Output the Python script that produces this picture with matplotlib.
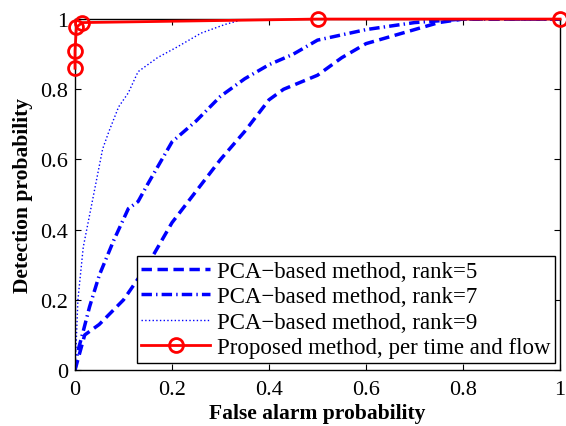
import matplotlib
matplotlib.use("Agg")
import matplotlib.pyplot as plt

plt.rcParams['font.family'] = ['Liberation Serif', 'DejaVu Serif']

# ROC curves
fa_rank5 = [0, 0.01, 0.02, 0.05, 0.10, 0.15, 0.20, 0.25, 0.30, 0.35, 0.40, 0.43, 0.50, 0.55, 0.60, 0.65, 0.70, 0.75, 0.80, 1.0]
pd_rank5 = [0, 0.05, 0.10, 0.13, 0.20, 0.30, 0.42, 0.51, 0.60, 0.68, 0.77, 0.80, 0.84, 0.89, 0.93, 0.95, 0.97, 0.99, 1.0, 1.0]

fa_rank7 = [0, 0.005, 0.015, 0.03, 0.05, 0.08, 0.11, 0.13, 0.15, 0.20, 0.25, 0.30, 0.35, 0.40, 0.45, 0.50, 0.60, 0.70, 0.80, 1.0]
pd_rank7 = [0, 0.05, 0.10, 0.18, 0.27, 0.37, 0.46, 0.48, 0.53, 0.65, 0.71, 0.78, 0.83, 0.87, 0.90, 0.94, 0.97, 0.99, 1.0, 1.0]

fa_rank9 = [0, 0.002, 0.006, 0.017, 0.037, 0.057, 0.07, 0.09, 0.11, 0.13, 0.17, 0.21, 0.26, 0.31, 0.35, 1.0]
pd_rank9 = [0, 0.06, 0.20, 0.35, 0.49, 0.63, 0.68, 0.75, 0.79, 0.85, 0.89, 0.92, 0.96, 0.985, 1.0, 1.0]

fa_prop = [0, 0, 0.003, 0.015, 0.5, 1.0]
pd_prop = [0.86, 0.91, 0.977, 0.99, 1.0, 1.0]

ticks = [0, 0.2, 0.4, 0.6, 0.8, 1]
tick_labels = ['0', '0.2', '0.4', '0.6', '0.8', '1']

fig = plt.figure(figsize=(5.66, 4.27), dpi=100)
ax = fig.add_axes([0.1325, 0.131, 0.857, 0.822])

ax.plot(fa_rank5, pd_rank5, '--', color='b', lw=2.5, dashes=(3, 1.6),
        label='PCA\u2212based method, rank=5')
ax.plot(fa_rank7, pd_rank7, '-.', color='b', lw=2.5, dashes=(3, 1.2, 0.4, 1.2),
        label='PCA\u2212based method, rank=7')
ax.plot(fa_rank9, pd_rank9, ':', color='b', lw=1.0,
        label='PCA\u2212based method, rank=9')
ax.plot(fa_prop, pd_prop, '-', color='r', lw=2.0, marker='o', ms=10,
        mfc='none', mew=2.0, clip_on=False, zorder=5,
        label='Proposed method, per time and flow')

ax.set_xlim(0, 1)
ax.set_ylim(0, 1)
ax.set_xticks(ticks)
ax.set_xticklabels(tick_labels)
ax.set_yticks(ticks)
ax.set_yticklabels(tick_labels)
ax.tick_params(direction='in', top=True, right=True, labelsize=16, length=4)
ax.tick_params(axis='x', pad=7)
ax.tick_params(axis='y', pad=5)
for s in ax.spines.values():
    s.set_linewidth(1.0)

ax.set_xlabel('False alarm probability', fontsize=15.5, fontweight='bold', labelpad=3)
ax.set_ylabel('Detection probability', fontsize=15.5, fontweight='bold', labelpad=5)

leg = ax.legend(loc='lower right', bbox_to_anchor=(0.99, 0.02), fontsize=16.5,
                handlelength=3.0, handletextpad=0.3, borderpad=0.2,
                labelspacing=0.2, borderaxespad=0.0, fancybox=False,
                framealpha=1, edgecolor='k')
leg.get_frame().set_linewidth(1.0)

fig.savefig('out.png', dpi=100)
